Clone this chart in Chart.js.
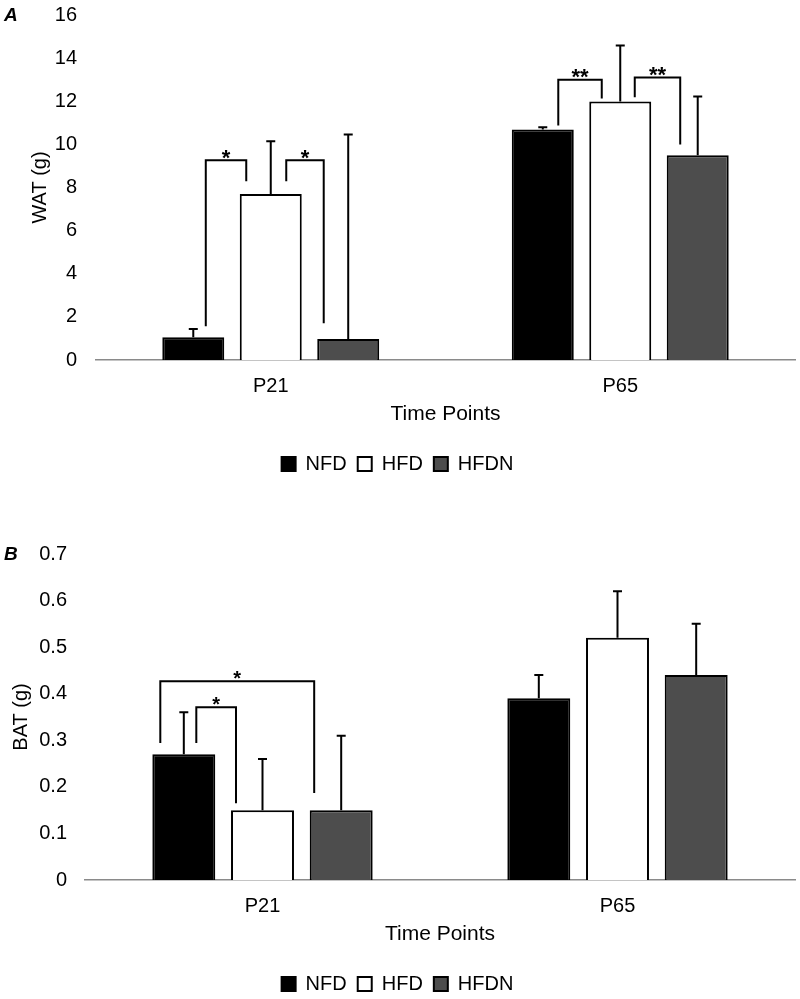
<!DOCTYPE html>
<html><head><meta charset="utf-8">
<script src="https://cdn.jsdelivr.net/npm/chart.js@4.4.1/dist/chart.umd.min.js"></script>
<style>
html,body{margin:0;padding:0;background:#fff;overflow:hidden;width:800px;height:999px;position:relative}
#wrapA{position:absolute;left:0;top:-16px;width:800px;height:501px}
#wrapB{position:absolute;left:0;top:520px;width:800px;height:485px}
.panel{position:absolute;font:italic bold 19px "Liberation Sans",Arial,sans-serif;line-height:19px;color:#000}
</style></head><body>
<div id="wrapA"><canvas id="cA" width="800" height="501"></canvas></div>
<div id="wrapB"><canvas id="cB" width="800" height="485"></canvas></div>
<div class="panel" style="left:4px;top:5px">A</div>
<div class="panel" style="left:4px;top:544px">B</div>
<script>
// ---- data ----
const categories = ['P21', 'P65'];
const seriesNames = ['NFD', 'HFD', 'HFDN'];
const watTicksMax = 16, watStep = 2;
const batTicksMax = 0.7, batStep = 0.1;

const watNFD  = [1.06, 10.69];
const watHFD  = [7.70, 11.99];
const watHFDN = [0.97, 9.49];
const watErrNFD  = [0.38, 0.10];
const watErrHFD  = [2.44, 2.59];
const watErrHFDN = [9.49, 2.73];

const batNFD  = [0.27, 0.39];
const batHFD  = [0.15, 0.52];
const batHFDN = [0.15, 0.44];
const batErrNFD  = [0.09, 0.05];
const batErrHFD  = [0.11, 0.10];
const batErrHFDN = [0.16, 0.11];

// significance brackets: [category, fromSeries, toSeries, topValue, leftLegBottom, rightLegBottom, label]
const watBrackets = [
  [0, 0, 1, 9.26, 1.57, 8.29, '*'],
  [0, 1, 2, 9.26, 8.29, 1.71, '*'],
  [1, 0, 1, 13.0, 10.88, 12.13, '**'],
  [1, 1, 2, 13.1, 12.18, 10.0, '**']
];
const batBrackets = [
  [0, 0, 2, 0.427, 0.294, 0.187, '*'],
  [0, 0, 1, 0.371, 0.294, 0.165, '*']
];

// ---- styles ----
const FONT = '"Liberation Sans", Arial, sans-serif';
const watLegOffsets = [[12.5, -24.5], [15.5, -24.5], [15.5, -18.5], [14.5, -17.5]];
const batLegOffsets = [[-23.5, -27], [12.5, -26.5]];
const fills = ['#000000', '#ffffff', '#4d4d4d'];

const overlay = {
  id: 'overlay',
  afterDatasetsDraw(chart, args, o) {
    const ctx = chart.ctx, y = chart.scales.y;
    ctx.save();
    ctx.strokeStyle = '#000'; ctx.lineWidth = 2; ctx.lineCap = 'butt';
    o.errs.forEach((errArr, di) => {
      const meta = chart.getDatasetMeta(di);
      meta.data.forEach((el, i) => {
        const v = chart.data.datasets[di].data[i];
        const y0 = y.getPixelForValue(v), y1 = y.getPixelForValue(v + errArr[i]);
        ctx.beginPath();
        ctx.moveTo(el.x, y0); ctx.lineTo(el.x, y1);
        ctx.moveTo(el.x - 4.5, y1); ctx.lineTo(el.x + 4.5, y1);
        ctx.stroke();
      });
    });
    o.brackets.forEach((b, k) => {
      const [ci, a, c, top, lb, rb, label] = b;
      const xa = chart.getDatasetMeta(a).data[ci].x + o.legOffsets[k][0];
      const xb = chart.getDatasetMeta(c).data[ci].x + o.legOffsets[k][1];
      const yt = y.getPixelForValue(top);
      ctx.beginPath();
      ctx.moveTo(xa, y.getPixelForValue(lb)); ctx.lineTo(xa, yt);
      ctx.lineTo(xb, yt); ctx.lineTo(xb, y.getPixelForValue(rb));
      ctx.stroke();
      ctx.fillStyle = '#000'; ctx.font = o.starFont;
      ctx.textAlign = 'center'; ctx.textBaseline = 'alphabetic';
      ctx.fillText(label, (xa + xb) / 2, yt + o.starDy);
    });
    ctx.restore();
  }
};

function makeChart(id, vals, errs, brackets, legOffsets, cfg) {
  return new Chart(document.getElementById(id), {
    type: 'bar',
    data: {
      labels: categories,
      datasets: seriesNames.map((n, i) => ({
        label: n, data: vals[i], backgroundColor: fills[i],
        borderColor: '#000', borderWidth: 2,
        categoryPercentage: 0.665, barPercentage: 0.8
      }))
    },
    options: {
      responsive: false, animation: false, devicePixelRatio: 1,
      layout: { padding: { top: cfg.padTop, right: 5, left: 0, bottom: 1 } },
      plugins: {
        legend: {
          position: 'bottom',
          labels: { boxWidth: 14, boxHeight: 14, padding: 11, color: '#000', font: { size: 20, family: FONT } }
        },
        tooltip: { enabled: false },
        overlay: { errs, brackets, legOffsets, starFont: cfg.starFont, starDy: cfg.starDy }
      },
      scales: {
        x: {
          grid: { display: false, drawTicks: false },
          border: { display: true, color: '#8a8a8a', width: 1.5 },
          ticks: { color: '#000', padding: 14, font: { size: 20, family: FONT } },
          title: { display: true, text: 'Time Points', color: '#000', font: { size: 21, family: FONT }, padding: { top: 0, bottom: 16 } },
          afterFit(s) { s.height = 83; }
        },
        y: {
          min: 0, max: cfg.max,
          grid: { display: false, drawTicks: false },
          border: { display: false },
          ticks: { stepSize: cfg.step, padding: cfg.tickPad, color: '#000', font: { size: 20, family: FONT } },
          title: { display: true, text: cfg.yTitle, color: '#000', font: { size: 20, family: FONT }, padding: { top: cfg.titlePad, bottom: 0 } },
          afterFit(s) { s.width = cfg.yWidth; }
        }
      }
    },
    plugins: [overlay]
  });
}

makeChart('cA', [watNFD, watHFD, watHFDN], [watErrNFD, watErrHFD, watErrHFDN], watBrackets, watLegOffsets,
  { padTop: 30, max: watTicksMax, step: watStep, yTitle: 'WAT (g)', yWidth: 96, tickPad: 19, titlePad: 28,
    starFont: 'bold 22px ' + FONT, starDy: 4.5 });
makeChart('cB', [batNFD, batHFD, batHFDN], [batErrNFD, batErrHFD, batErrHFDN], batBrackets, batLegOffsets,
  { padTop: 34, max: batTicksMax, step: batStep, yTitle: 'BAT (g)', yWidth: 85, tickPad: 18, titlePad: 9,
    starFont: 'bold 20px ' + FONT, starDy: 4 });
</script>
</body></html>
